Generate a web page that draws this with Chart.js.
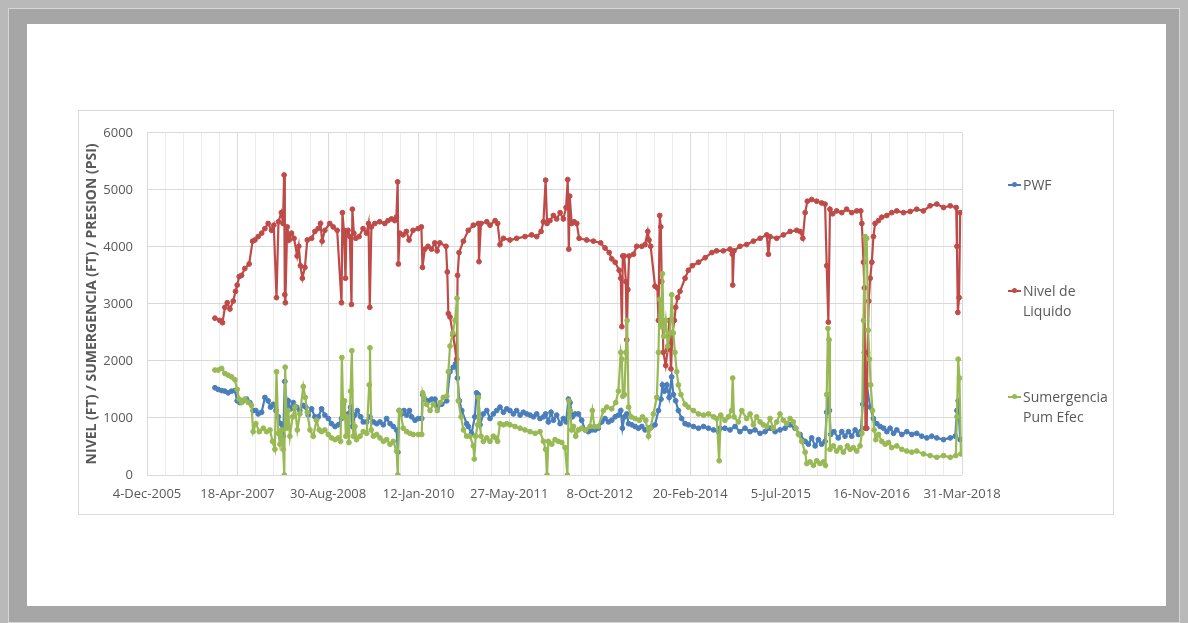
<!DOCTYPE html>
<html>
<head>
<meta charset="utf-8">
<script src="https://cdn.jsdelivr.net/npm/chart.js@4.4.1/dist/chart.umd.min.js"></script>
<style>
  body { margin: 0; width: 1188px; height: 623px; background: #b9b9b9; position: relative; overflow: hidden; font-family: 'Open Sans', sans-serif; }
  #frame { position: absolute; left: 8px; top: 8px; width: 1170px; height: 613px; background: #a6a6a6; border: 1px solid #d6d6d6; }
  #panel { position: absolute; left: 27px; top: 24px; width: 1139px; height: 582px; background: #fff; }
  #box { position: absolute; left: 78px; top: 110px; width: 1034px; height: 403px; border: 1px solid #d9d9d9; background: #fff; }
  #chart { position: absolute; left: 0; top: 0; }
  .leg { position: absolute; left: 1008px; color: #595959; font-size: 14px; line-height: 20px; }
  .leg .ln { position: absolute; left: 0; top: 9px; width: 13px; height: 2px; }
  .leg .dt { position: absolute; left: 4px; top: 7px; width: 5px; height: 5px; border-radius: 50%; }
  .leg .tx { position: absolute; left: 15px; top: 0; white-space: nowrap; }
</style>
</head>
<body>
<div id="frame"></div>
<div id="panel"></div>
<div id="box"><canvas id="chart" width="1034" height="403"></canvas></div>

<div class="leg" style="top:175px"><div class="ln" style="background:#4A7EBB"></div><div class="dt" style="background:#4A7EBB"></div><div class="tx">PWF</div></div>
<div class="leg" style="top:281px"><div class="ln" style="background:#BE4B48"></div><div class="dt" style="background:#BE4B48"></div><div class="tx">Nivel de<br>Liquido</div></div>
<div class="leg" style="top:387px"><div class="ln" style="background:#98B954"></div><div class="dt" style="background:#98B954"></div><div class="tx">Sumergencia<br>Pum Efec</div></div>

<script>
// x values are days counted from 4-Dec-2005
const tickLabels = ['4-Dec-2005', '18-Apr-2007', '30-Aug-2008', '12-Jan-2010', '27-May-2011',
    '8-Oct-2012', '20-Feb-2014', '5-Jul-2015', '16-Nov-2016', '31-Mar-2018'];

const pwf = [
    [375,1530],[393,1500],[412,1480],[430,1470],[448,1440],[467,1470],[485,1480],[498,1300],[513,1270],[531,1300],
    [550,1330],[568,1270],[586,1130],[601,1130],[614,1070],[633,1100],[651,1360],[669,1300],[682,1190],[697,1240],
    [712,1130],[725,1020],[738,900],[752,680],[761,1640],[771,1020],[780,1300],[793,1160],[808,1270],[826,1190],
    [844,1130],[863,1220],[877,1190],[890,1050],[909,1160],[927,1020],[946,1020],[964,1160],[982,1050],[1001,990],
    [1019,900],[1038,850],[1056,880],[1074,990],[1084,1240],[1096,1020],[1111,1070],[1124,1190],[1135,850],[1148,1050],
    [1161,1130],[1180,1020],[1194,930],[1213,930],[1231,1020],[1250,930],[1268,900],[1286,930],[1305,880],[1323,990],
    [1342,900],[1360,850],[1378,790],[1385,400],[1393,1130],[1406,1070],[1419,1130],[1434,1050],[1449,1130],[1461,1020],
    [1480,960],[1498,990],[1517,990],[1522,1410],[1535,1330],[1554,1300],[1572,1330],[1590,1330],[1603,1190],[1627,1240],
    [1655,1300],[1673,1810],[1691,1890],[1704,1950],[1714,1700],[1725,1300],[1738,1130],[1765,900],[1774,850],[1792,730],
    [1810,1020],[1820,1440],[1829,1410],[1839,880],[1857,1070],[1876,1130],[1894,990],[1912,1070],[1931,1130],[1949,1190],
    [1968,1100],[1986,1160],[2004,1130],[2023,1070],[2041,1130],[2060,1050],[2078,1100],[2097,1070],[2115,1050],[2134,1020],
    [2152,1070],[2170,990],[2189,1020],[2201,1070],[2216,930],[2231,1100],[2244,960],[2262,1050],[2281,900],[2299,990],
    [2314,930],[2327,1330],[2336,1270],[2349,1020],[2364,1070],[2382,1070],[2400,960],[2419,790],[2437,760],[2456,790],
    [2474,790],[2492,820],[2511,930],[2529,990],[2548,930],[2566,960],[2585,1020],[2603,1050],[2616,1130],[2625,820],
    [2636,1020],[2649,1070],[2659,900],[2677,880],[2695,850],[2713,820],[2732,850],[2750,790],[2769,820],[2787,850],
    [2805,880],[2824,1130],[2838,1330],[2846,1580],[2857,1470],[2870,1580],[2883,1360],[2897,1720],[2906,1410],[2919,1300],
    [2934,1130],[2952,990],[2971,900],[2989,880],[3017,850],[3045,820],[3073,850],[3100,820],[3128,790],[3155,760],
    [3164,820],[3191,820],[3219,790],[3247,850],[3274,760],[3302,820],[3330,760],[3357,790],[3385,730],[3413,760],
    [3440,820],[3468,760],[3495,790],[3523,820],[3551,880],[3578,820],[3606,710],[3634,590],[3652,540],[3670,650],
    [3689,510],[3707,620],[3725,540],[3744,590],[3753,1100],[3760,1410],[3768,1130],[3775,710],[3793,760],[3817,650],
    [3836,760],[3854,680],[3873,760],[3891,680],[3910,790],[3928,710],[3941,760],[3952,1240],[3961,2150],[3974,1580],
    [3993,1190],[4011,990],[4030,900],[4048,850],[4067,820],[4085,760],[4103,820],[4122,730],[4140,790],[4168,710],
    [4195,760],[4223,710],[4250,730],[4278,680],[4306,650],[4333,680],[4361,650],[4398,620],[4435,650],[4463,680],
    [4472,1130],[4479,1300],[4490,620]
];

const nivel = [
    [375,2750],[402,2710],[417,2670],[430,2940],[443,3020],[458,2910],[476,3050],[489,3220],[498,3330],[509,3480],
    [522,3500],[540,3620],[564,3700],[583,4100],[596,4120],[614,4180],[633,4240],[651,4320],[669,4410],[688,4290],
    [700,4380],[715,3110],[726,4440],[742,4600],[751,4410],[757,5260],[761,3160],[764,3020],[774,4350],[785,4120],
    [798,4240],[812,4150],[829,3840],[838,4010],[847,3670],[858,3450],[872,3640],[885,4120],[909,4150],[927,4270],
    [945,4320],[958,4410],[967,4100],[982,4290],[1009,4410],[1028,4350],[1050,4290],[1074,3020],[1079,4600],[1087,4290],
    [1096,3450],[1101,4240],[1110,4290],[1120,4180],[1129,2990],[1134,4660],[1142,4240],[1153,4150],[1171,4180],[1193,4320],
    [1212,4240],[1223,4410],[1230,2940],[1239,4350],[1258,4410],[1285,4440],[1313,4410],[1331,4460],[1350,4490],[1368,4460],
    [1377,4520],[1384,5140],[1388,3700],[1395,4240],[1414,4210],[1432,4270],[1447,4120],[1469,4290],[1497,4320],[1515,4350],
    [1521,3640],[1534,3960],[1552,4010],[1571,3960],[1589,4070],[1602,3930],[1617,4070],[1651,4010],[1658,3560],[1664,2830],
    [1673,2770],[1690,2450],[1710,2030],[1715,3500],[1723,3900],[1747,4100],[1774,4290],[1802,4380],[1830,4410],[1833,3740],
    [1844,4410],[1876,4440],[1894,4380],[1922,4460],[1936,4410],[1949,4040],[1968,4150],[2004,4120],[2041,4150],[2087,4180],
    [2124,4210],[2152,4180],[2176,4270],[2189,4440],[2201,5170],[2209,4410],[2225,4460],[2244,4550],[2262,4490],[2281,4600],
    [2299,4490],[2314,4690],[2323,5180],[2329,3960],[2334,4890],[2345,4410],[2358,4440],[2373,4410],[2386,4150],[2428,4120],
    [2465,4100],[2505,4070],[2529,3980],[2552,3900],[2566,3790],[2585,3730],[2607,3590],[2616,3450],[2622,2600],[2627,3840],
    [2635,3840],[2644,3390],[2649,2370],[2655,3250],[2662,3840],[2686,3870],[2704,4010],[2732,4010],[2750,4040],[2765,4270],
    [2772,4120],[2781,4010],[2805,3310],[2818,3280],[2824,2710],[2831,4550],[2837,4350],[2842,3390],[2851,2150],[2864,1920],
    [2875,2200],[2884,2710],[2893,1860],[2901,2490],[2912,2710],[2919,2940],[2930,3110],[2943,3220],[2971,3450],[2989,3590],
    [3011,3670],[3045,3730],[3082,3810],[3119,3900],[3145,3930],[3182,3930],[3219,3960],[3232,3870],[3234,3330],[3241,3930],
    [3274,4010],[3311,4040],[3348,4100],[3385,4150],[3422,4210],[3431,3870],[3440,4180],[3477,4150],[3514,4210],[3551,4270],
    [3587,4290],[3606,4270],[3621,4150],[3634,4600],[3646,4800],[3670,4830],[3698,4800],[3725,4770],[3744,4750],[3753,3670],
    [3762,2680],[3771,4660],[3786,4580],[3808,4630],[3836,4600],[3863,4660],[3891,4600],[3919,4630],[3941,4630],[3947,4410],
    [3956,3730],[3961,3280],[3967,820],[3974,820],[3978,2150],[3985,3050],[3993,3450],[4002,3730],[4011,4180],[4020,4410],
    [4039,4460],[4057,4520],[4085,4550],[4112,4600],[4140,4630],[4177,4600],[4214,4620],[4250,4660],[4287,4630],[4324,4720],
    [4361,4750],[4398,4690],[4435,4720],[4468,4690],[4472,4010],[4477,2850],[4484,3110],[4490,4600]
];

const sumergencia = [
    [375,1840],[393,1840],[412,1870],[430,1780],[448,1750],[467,1720],[485,1670],[498,1500],[509,1330],[522,1270],
    [540,1330],[559,1270],[577,1220],[586,760],[601,900],[620,760],[642,820],[660,760],[679,790],[693,590],
    [706,450],[715,1810],[725,730],[734,540],[743,790],[752,450],[758,0],[763,1890],[771,820],[780,1130],
    [789,680],[804,1020],[817,1190],[830,790],[844,1070],[863,1550],[874,1360],[885,1100],[900,790],[918,680],
    [936,960],[951,790],[964,760],[982,790],[1001,710],[1019,650],[1038,620],[1056,650],[1069,590],[1076,2060],
    [1084,1020],[1091,1300],[1098,680],[1105,1020],[1115,570],[1124,1470],[1131,2180],[1139,680],[1148,850],[1157,620],
    [1176,680],[1194,760],[1213,730],[1227,1580],[1231,2230],[1238,790],[1250,680],[1268,710],[1286,650],[1305,590],
    [1323,620],[1342,540],[1360,590],[1378,420],[1385,0],[1391,1130],[1400,1100],[1415,820],[1434,760],[1452,730],
    [1470,710],[1498,710],[1517,710],[1522,1440],[1529,1360],[1544,1240],[1563,1130],[1581,1240],[1603,1130],[1618,1270],
    [1636,1360],[1655,1380],[1664,1810],[1673,2260],[1688,2490],[1701,2710],[1712,3100],[1719,1300],[1734,1020],[1747,790],
    [1765,680],[1783,680],[1802,510],[1807,280],[1815,680],[1826,880],[1830,1360],[1844,680],[1857,590],[1876,650],
    [1894,590],[1912,680],[1925,650],[1936,590],[1949,900],[1968,880],[1986,900],[2004,880],[2032,850],[2060,820],
    [2087,790],[2115,760],[2143,730],[2170,760],[2189,590],[2201,450],[2209,0],[2216,590],[2235,540],[2253,620],
    [2271,590],[2290,570],[2308,480],[2321,0],[2329,1300],[2336,1130],[2345,790],[2355,850],[2367,680],[2382,790],
    [2400,820],[2422,790],[2446,850],[2459,1130],[2470,850],[2492,850],[2520,1130],[2539,1190],[2566,1160],[2588,1270],
    [2603,1470],[2616,2150],[2622,2030],[2627,1380],[2636,1410],[2644,2150],[2651,2710],[2659,1190],[2673,1020],[2695,990],
    [2718,960],[2736,1020],[2754,960],[2769,680],[2780,820],[2796,1070],[2815,1360],[2824,2150],[2831,3080],[2838,2600],
    [2846,3530],[2853,2430],[2864,2710],[2875,2260],[2888,2490],[2897,3160],[2906,2490],[2915,2150],[2925,1810],[2934,1580],
    [2948,1410],[2971,1240],[2989,1190],[3017,1130],[3045,1070],[3073,1050],[3100,1070],[3128,1020],[3146,990],[3159,250],
    [3168,1050],[3191,960],[3210,1020],[3228,1130],[3234,1700],[3241,1020],[3265,930],[3284,1130],[3311,990],[3330,1070],
    [3348,880],[3366,1020],[3385,930],[3403,880],[3422,850],[3440,990],[3458,820],[3477,930],[3495,1070],[3514,960],
    [3532,900],[3551,990],[3569,930],[3584,820],[3597,710],[3615,590],[3634,400],[3643,200],[3661,230],[3680,170],
    [3698,250],[3716,200],[3735,230],[3746,170],[3753,1410],[3760,2570],[3766,2370],[3771,450],[3790,510],[3808,420],
    [3827,480],[3845,400],[3867,510],[3882,450],[3900,480],[3919,420],[3937,510],[3947,730],[3956,2710],[3965,4180],
    [3974,4150],[3982,2540],[3989,2030],[3996,1580],[4006,1130],[4015,790],[4024,620],[4039,710],[4057,590],[4076,540],
    [4094,570],[4112,480],[4140,510],[4168,450],[4195,420],[4223,400],[4250,420],[4287,370],[4324,340],[4361,310],
    [4398,340],[4435,310],[4466,340],[4472,1020],[4479,2030],[4486,1700],[4494,370]
];

const toXY = arr => arr.map(([x, y]) => ({ x, y }));

function series(label, data, color, order) {
    return {
        label: label,
        data: toXY(data),
        borderColor: color,
        backgroundColor: color,
        pointBackgroundColor: color,
        pointBorderColor: color,
        order: order // green drawn on top, like the original
    };
}

Chart.defaults.font.family = "'Open Sans', sans-serif";

new Chart(document.getElementById('chart'), {
    type: 'line',
    data: {
        datasets: [
            series('PWF', pwf, '#4A7EBB', 3),
            series('Nivel de Liquido', nivel, '#BE4B48', 2),
            series('Sumergencia Pum Efec', sumergencia, '#98B954', 1)
        ]
    },
    options: {
        responsive: false,
        animation: false,
        layout: { padding: { top: 10, right: 151, left: 0, bottom: 0 } },
        elements: {
            line: { borderWidth: 2.2, tension: 0 },
            point: { radius: 2.4, borderWidth: 1, hoverRadius: 3 }
        },
        plugins: { legend: { display: false }, tooltip: { enabled: false } },
        scales: {
            x: {
                type: 'linear',
                min: 0,
                max: 4500,
                afterFit: s => { s.height = 39; },
                grid: {
                    color: c => (c.tick && c.tick.value % 500 === 0) ? '#d9d9d9' : '#ededed',
                    drawTicks: false
                },
                border: { display: false },
                ticks: {
                    stepSize: 100,
                    autoSkip: false,
                    maxRotation: 0,
                    padding: 11,
                    color: '#595959',
                    font: { size: 13 },
                    callback: v => v % 500 === 0 ? tickLabels[v / 500] : ''
                }
            },
            y: {
                min: 0,
                max: 6000,
                afterFit: s => { s.width = 68; },
                grid: { color: '#d9d9d9', drawTicks: false },
                border: { display: false },
                ticks: { stepSize: 1000, padding: 14, color: '#595959', font: { size: 13 }, format: { useGrouping: false } },
                title: {
                    display: true,
                    text: 'NIVEL (FT) / SUMERGENCIA (FT) / PRESION (PSI)',
                    color: '#595959',
                    font: { size: 14, weight: 'bold' },
                    padding: { top: 5, bottom: 0 }
                }
            }
        }
    }
});
</script>
</body>
</html>
